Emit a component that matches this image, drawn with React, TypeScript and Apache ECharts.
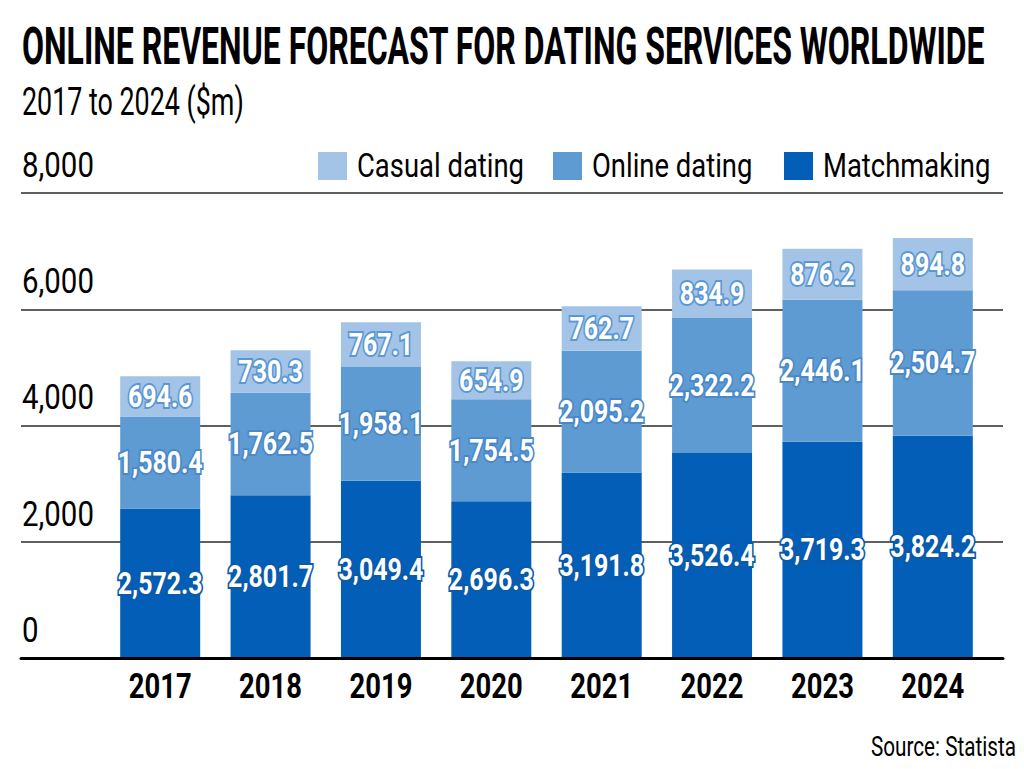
import React, { useEffect, useRef } from "react";
import * as echarts from "echarts";

const categories = ["2017", "2018", "2019", "2020", "2021", "2022", "2023", "2024"];
const matchmaking = [2572.3, 2801.7, 3049.4, 2696.3, 3191.8, 3526.4, 3719.3, 3824.2];
const onlineDating = [1580.4, 1762.5, 1958.1, 1754.5, 2095.2, 2322.2, 2446.1, 2504.7];
const casualDating = [694.6, 730.3, 767.1, 654.9, 762.7, 834.9, 876.2, 894.8];
const seriesNames = ["Matchmaking", "Online dating", "Casual dating"];
const legendOrder = ["Casual dating", "Online dating", "Matchmaking"];
const yTicks = [0, 2000, 4000, 6000, 8000];
const yMin = 0;
const yMax = 8000;
const yInterval = 2000;

const titleText = "ONLINE REVENUE FORECAST FOR DATING SERVICES WORLDWIDE";
const subtitleText = "2017 to 2024 ($m)";
const sourceText = "Source: Statista";

const FONT = "Roboto, 'Liberation Sans', sans-serif";

const COLORS: Record<string, string> = {
  "Casual dating": "#a3c4e6",
  "Online dating": "#5f9bd3",
  Matchmaking: "#035eb7",
};
const BORDERS: Record<string, string> = {
  "Casual dating": "#5b98d3",
  "Online dating": "#4a88c8",
  Matchmaking: "#0b5aa8",
};

function measure(text: string, font: string): number {
  const c = document.createElement("canvas").getContext("2d");
  if (!c) return 1;
  c.font = font;
  return c.measureText(text).width || 1;
}

function fmt(v: number): string {
  return v.toLocaleString("en-US", { minimumFractionDigits: 1, maximumFractionDigits: 1 });
}

export default function App() {
  const ref = useRef<HTMLDivElement>(null);
  useEffect(() => {
    if (!ref.current) return;
    const chart = echarts.init(ref.current, null, { renderer: "svg" });

    const fTitle = `bold 52px ${FONT}`;
    const fSub = `39px ${FONT}`;
    const fSrc = `28px ${FONT}`;
    const fLegend = `34px ${FONT}`;
    const fBar = `bold 31px ${FONT}`;
    const fX = `bold 35px ${FONT}`;
    const fY = `35px ${FONT}`;

    const sTitle = 963 / measure(titleText, fTitle);
    const sSub = 222 / measure(subtitleText, fSub);
    const sSrc = 145 / measure(sourceText, fSrc);
    const sLegend = 167 / measure("Casual dating", fLegend);
    const sBar = 85 / measure("2,572.3", fBar);
    const sX = 63 / measure("2017", fX);
    const sY = 72 / measure("8,000", fY);

    // legend graphic items
    const legendX: Record<string, number> = { "Casual dating": 318, "Online dating": 553, Matchmaking: 784 };
    const legendGraphics: any[] = [];
    legendOrder.forEach((name) => {
      const x0 = legendX[name];
      legendGraphics.push({
        type: "rect",
        shape: { x: x0, y: 152, width: 29, height: 28 },
        style: { fill: COLORS[name] },
      });
      legendGraphics.push({
        type: "text",
        x: x0 + 39,
        y: 165,
        scaleX: sLegend,
        style: { text: name, font: fLegend, fill: "#000", align: "left", verticalAlign: "middle" },
      });
    });

    const stackData: any[] = [];
    const seriesArrays = [matchmaking, onlineDating, casualDating];
    categories.forEach((_, i) => {
      let base = 0;
      seriesArrays.forEach((arr, si) => {
        const v = arr[i];
        stackData.push([i, base + v / 2, v, si]);
        base += v;
      });
    });

    chart.setOption({
      animation: false,
      backgroundColor: "#fff",
      graphic: [
        {
          type: "text",
          x: 22,
          y: 47,
          scaleX: sTitle,
          style: { text: titleText, fill: "#000", font: fTitle, verticalAlign: "middle" },
        },
        {
          type: "text",
          x: 22,
          y: 102,
          scaleX: sSub,
          style: { text: subtitleText, fill: "#000", font: fSub, verticalAlign: "middle" },
        },
        {
          type: "text",
          x: 1016,
          y: 746,
          scaleX: sSrc,
          style: { text: sourceText, fill: "#000", font: fSrc, align: "right", verticalAlign: "middle" },
        },
        ...legendGraphics,
      ],
      grid: [
        { left: 105, right: 36, top: 193, bottom: 111 },
        { left: 21, right: 21, top: 193, bottom: 111 },
      ],
      xAxis: [
        {
          type: "category",
          gridIndex: 0,
          data: categories,
          axisLine: { show: false },
          axisTick: { show: false },
          axisLabel: { show: false },
        },
        {
          type: "category",
          gridIndex: 1,
          data: [""],
          axisLine: { show: true, lineStyle: { color: "#000", width: 3 } },
          axisTick: { show: false },
          axisLabel: { show: false },
          z: 10,
        },
      ],
      yAxis: [
        { type: "value", gridIndex: 0, min: yMin, max: yMax, interval: yInterval, show: false },
        {
          type: "value",
          gridIndex: 1,
          min: yMin,
          max: yMax,
          interval: yInterval,
          axisLine: { show: false },
          axisTick: { show: false },
          axisLabel: { show: false },
          splitLine: { show: true, lineStyle: { color: "#5f5f5f", width: 2 } },
        },
      ],
      series: [
        ...seriesNames.map((name, si) => ({
          name,
          type: "bar",
          stack: "total",
          barWidth: 80,
          xAxisIndex: 0,
          yAxisIndex: 0,
          data: seriesArrays[si],
          itemStyle: { color: COLORS[name] },
        })),
        {
          type: "custom",
          name: "barLabels",
          xAxisIndex: 0,
          yAxisIndex: 0,
          clip: false,
          z: 5,
          data: stackData,
          renderItem: (_p: any, api: any) => {
            const pt = api.coord([api.value(0), api.value(1)]);
            const name = seriesNames[api.value(3)];
            return {
              type: "text",
              x: pt[0],
              y: pt[1],
              scaleX: sBar,
              style: {
                text: fmt(api.value(2)),
                font: fBar,
                fill: "#fff",
                stroke: BORDERS[name],
                lineWidth: 4,
                align: "center",
                verticalAlign: "middle",
              },
            };
          },
        },
        {
          type: "custom",
          name: "xLabels",
          xAxisIndex: 0,
          yAxisIndex: 0,
          clip: false,
          data: categories.map((c, i) => [i, 0, c]),
          renderItem: (_p: any, api: any) => {
            const pt = api.coord([api.value(0), 0]);
            return {
              type: "text",
              x: pt[0],
              y: pt[1] + 28,
              scaleX: sX,
              style: {
                text: categories[api.value(0)],
                font: fX,
                fill: "#000",
                align: "center",
                verticalAlign: "middle",
              },
            };
          },
        },
        {
          type: "custom",
          name: "yLabels",
          xAxisIndex: 1,
          yAxisIndex: 1,
          clip: false,
          data: yTicks.map((v) => [0, v]),
          renderItem: (p: any, api: any) => {
            const pt = api.coord([0, api.value(1)]);
            return {
              type: "text",
              x: p.coordSys.x + 1,
              y: pt[1] - 28,
              scaleX: sY,
              style: {
                text: Number(api.value(1)).toLocaleString("en-US"),
                font: fY,
                fill: "#000",
                align: "left",
                verticalAlign: "middle",
              },
            };
          },
        },
      ],
    });
    return () => chart.dispose();
  }, []);
  return (
    <div ref={ref} style={{ position: "fixed", left: 0, top: 0, width: 1024, height: 769 }} />
  );
}
